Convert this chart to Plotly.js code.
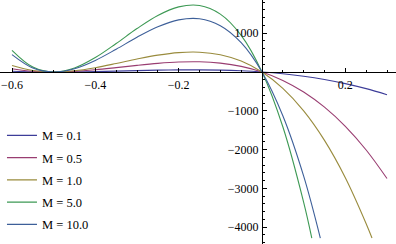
<!DOCTYPE html>
<html>
<head>
<meta charset="utf-8">
<script src="https://cdn.plot.ly/plotly-3.0.1.min.js"></script>
<style>html,body{margin:0;padding:0;background:#fff;}#chart{width:396px;height:244px;}</style>
</head>
<body>
<div id="chart"></div>
<script>
const xs = [-0.6, -0.55, -0.5, -0.45, -0.4, -0.35, -0.3, -0.25, -0.2, -0.15, -0.1, -0.05, 0, 0.05, 0.1, 0.15, 0.2, 0.25, 0.3];
const xsM1 = [-0.6, -0.55, -0.5, -0.45, -0.4, -0.35, -0.3, -0.25, -0.2, -0.15, -0.1, -0.05, 0, 0.05, 0.1, 0.15, 0.2, 0.25, 0.264];
const xsM5 = [-0.6, -0.55, -0.5, -0.45, -0.4, -0.35, -0.3, -0.25, -0.2, -0.15, -0.1, -0.05, 0, 0.05, 0.1, 0.1195];
const xsM10 = [-0.6, -0.55, -0.5, -0.45, -0.4, -0.35, -0.3, -0.25, -0.2, -0.15, -0.1, -0.05, 0, 0.05, 0.1, 0.14];

const yM01 = [18.3, 4.2, 0, 3.4, 12.2, 24.0, 36.6, 47.7, 54.9, 56.0, 48.8, 30.9, 0, -46.1, -109.8, -193.3, -298.9, -428.9, -585.6];
const yM05 = [85.8, 19.7, 0, 16.1, 57.2, 112.6, 171.6, 223.4, 257.4, 262.8, 228.8, 144.8, 0, -216.3, -514.8, -906.3, -1401.4, -2010.9, -2745.6];
const yM1 = [166.8, 38.2, 0, 31.3, 111.2, 218.9, 333.6, 434.4, 500.4, 510.8, 444.8, 281.5, 0, -420.5, -1000.8, -1761.8, -2724.4, -3909.4, -4280];
const yM5 = [559.8, 128.3, 0, 105.0, 373.2, 734.7, 1119.6, 1457.8, 1679.4, 1714.4, 1492.8, 944.7, 0, -1411.2, -3358.8, -4280];
const yM10 = [447.6, 102.6, 0, 83.9, 298.4, 587.5, 895.2, 1165.6, 1342.8, 1370.8, 1193.6, 755.3, 0, -1128.3, -2685.6, -4280];

const names = ["M = 0.1", "M = 0.5", "M = 1.0", "M = 5.0", "M = 10.0"];
const colors = ["rgb(61,61,153)", "rgb(153,61,113)", "rgb(153,139,61)", "rgb(61,153,84)", "rgb(61,95,153)"];

const xTickVals = [-0.6, -0.4, -0.2, 0.2];
const xTickText = ["\u22120.6", "\u22120.4", "\u22120.2", "0.2"];
const yTickVals = [-4000, -3000, -2000, -1000, 1000];
const yTickText = ["\u22124000", "\u22123000", "\u22122000", "\u22121000", "1000"];

const xData = [xs, xs, xsM1, xsM5, xsM10];
const yData = [yM01, yM05, yM1, yM5, yM10];

const traces = names.map((n, i) => ({
  x: xData[i], y: yData[i], name: n, type: 'scatter', mode: 'lines',
  line: {color: colors[i], width: 1.1, shape: 'spline', smoothing: 1},
  legendgroup: 'g' + i
}));

const serif = '"Liberation Serif", "Times New Roman", serif';
const tickFont = {family: serif, size: 12, color: '#000'};
const legFont = {family: serif, size: 12.5, color: '#000'};

const layout = {
  width: 396, height: 244,
  margin: {l: 0, r: 0, t: 0, b: 0},
  paper_bgcolor: '#fff', plot_bgcolor: '#fff',
  font: tickFont,
  showlegend: true,
  legend: {x: 0.005, y: 0.505, xanchor: 'left', yanchor: 'top', font: legFont, bgcolor: 'rgba(0,0,0,0)', tracegroupgap: 3},
  xaxis: {
    range: [-0.6288, 0.3216], anchor: 'free', position: 0.7049,
    showgrid: false, zeroline: false, showline: true, linecolor: '#000', linewidth: 1,
    tickmode: 'array', tickvals: xTickVals, ticktext: xTickText,
    ticks: 'inside', ticklen: 4, tickcolor: '#000', tickfont: tickFont, ticklabelstandoff: 2,
    minor: {tickmode: 'linear', tick0: 0, dtick: 0.05, ticks: 'inside', ticklen: 2, tickcolor: '#000', showgrid: false}
  },
  yaxis: {
    range: [-4433, 1856], anchor: 'free', position: 0.6616,
    showgrid: false, zeroline: false, showline: true, linecolor: '#000', linewidth: 1,
    tickmode: 'array', tickvals: yTickVals, ticktext: yTickText,
    ticks: 'inside', ticklen: 4, tickcolor: '#000', tickfont: tickFont, ticklabelstandoff: 1,
    minor: {tickmode: 'linear', tick0: 0, dtick: 200, ticks: 'inside', ticklen: 2, tickcolor: '#000', showgrid: false}
  }
};

Plotly.newPlot('chart', traces, layout, {displayModeBar: false, staticPlot: true});
</script>
</body>
</html>
